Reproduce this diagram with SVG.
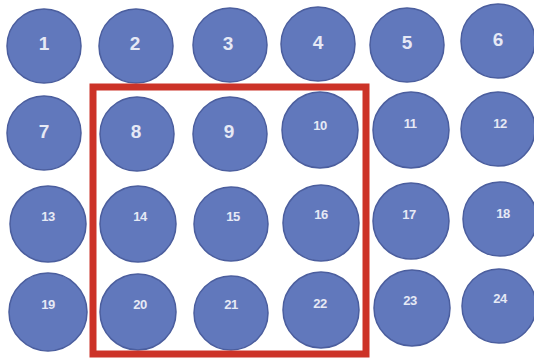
<svg xmlns="http://www.w3.org/2000/svg" width="534" height="363" viewBox="0 0 534 363">
<style>
.n circle{fill:#6178BC;stroke:#4B5E9E;stroke-width:1.5}
.n text{fill:#E6E9F5;font-family:"Liberation Sans",Arial,sans-serif;font-weight:bold;text-anchor:middle;dominant-baseline:central}
.s text{font-size:19px}
.d text{font-size:13px;letter-spacing:-0.5px}
.box{fill:none;stroke:#CC3328;stroke-width:7}
</style>
<rect width="534" height="363" fill="#FFFFFF"/>
<g id="n1" class="n s"><circle cx="44" cy="46" r="37"/><text x="44" y="43">1</text></g>
<g id="n2" class="n s"><circle cx="136" cy="46" r="37"/><text x="135" y="43">2</text></g>
<g id="n3" class="n s"><circle cx="230" cy="45" r="37"/><text x="228" y="43">3</text></g>
<g id="n4" class="n s"><circle cx="318" cy="44" r="37"/><text x="318" y="42">4</text></g>
<g id="n5" class="n s"><circle cx="407" cy="45" r="37"/><text x="407" y="42">5</text></g>
<g id="n6" class="n s"><circle cx="498" cy="41" r="37"/><text x="498" y="39">6</text></g>
<g id="n7" class="n s"><circle cx="44" cy="133" r="37"/><text x="44" y="131">7</text></g>
<g id="n8" class="n s"><circle cx="137" cy="134" r="37"/><text x="136" y="131">8</text></g>
<g id="n9" class="n s"><circle cx="230" cy="134" r="37"/><text x="229" y="131">9</text></g>
<g id="n10" class="n d"><circle cx="320" cy="130" r="38"/><text x="320" y="125">10</text></g>
<g id="n11" class="n d"><circle cx="411" cy="130" r="38"/><text x="410" y="123">11</text></g>
<g id="n12" class="n d"><circle cx="498" cy="129" r="37"/><text x="500" y="123">12</text></g>
<g id="n13" class="n d"><circle cx="48" cy="224" r="38"/><text x="48" y="216">13</text></g>
<g id="n14" class="n d"><circle cx="138" cy="224" r="38"/><text x="140" y="216">14</text></g>
<g id="n15" class="n d"><circle cx="231" cy="224" r="37"/><text x="233" y="216">15</text></g>
<g id="n16" class="n d"><circle cx="321" cy="223" r="38"/><text x="321" y="214">16</text></g>
<g id="n17" class="n d"><circle cx="411" cy="221" r="38"/><text x="409" y="214">17</text></g>
<g id="n18" class="n d"><circle cx="500" cy="219" r="37"/><text x="503" y="213">18</text></g>
<g id="n19" class="n d"><circle cx="48" cy="312" r="39"/><text x="48" y="304">19</text></g>
<g id="n20" class="n d"><circle cx="138" cy="312" r="38"/><text x="140" y="304">20</text></g>
<g id="n21" class="n d"><circle cx="231" cy="313" r="37"/><text x="231" y="304">21</text></g>
<g id="n22" class="n d"><circle cx="321" cy="310" r="38"/><text x="320" y="303">22</text></g>
<g id="n23" class="n d"><circle cx="412" cy="308" r="38"/><text x="410" y="300">23</text></g>
<g id="n24" class="n d"><circle cx="499" cy="306" r="37"/><text x="500" y="298">24</text></g>
<g id="connectors"><rect class="box" x="93" y="87" width="273" height="267"/></g>
</svg>
